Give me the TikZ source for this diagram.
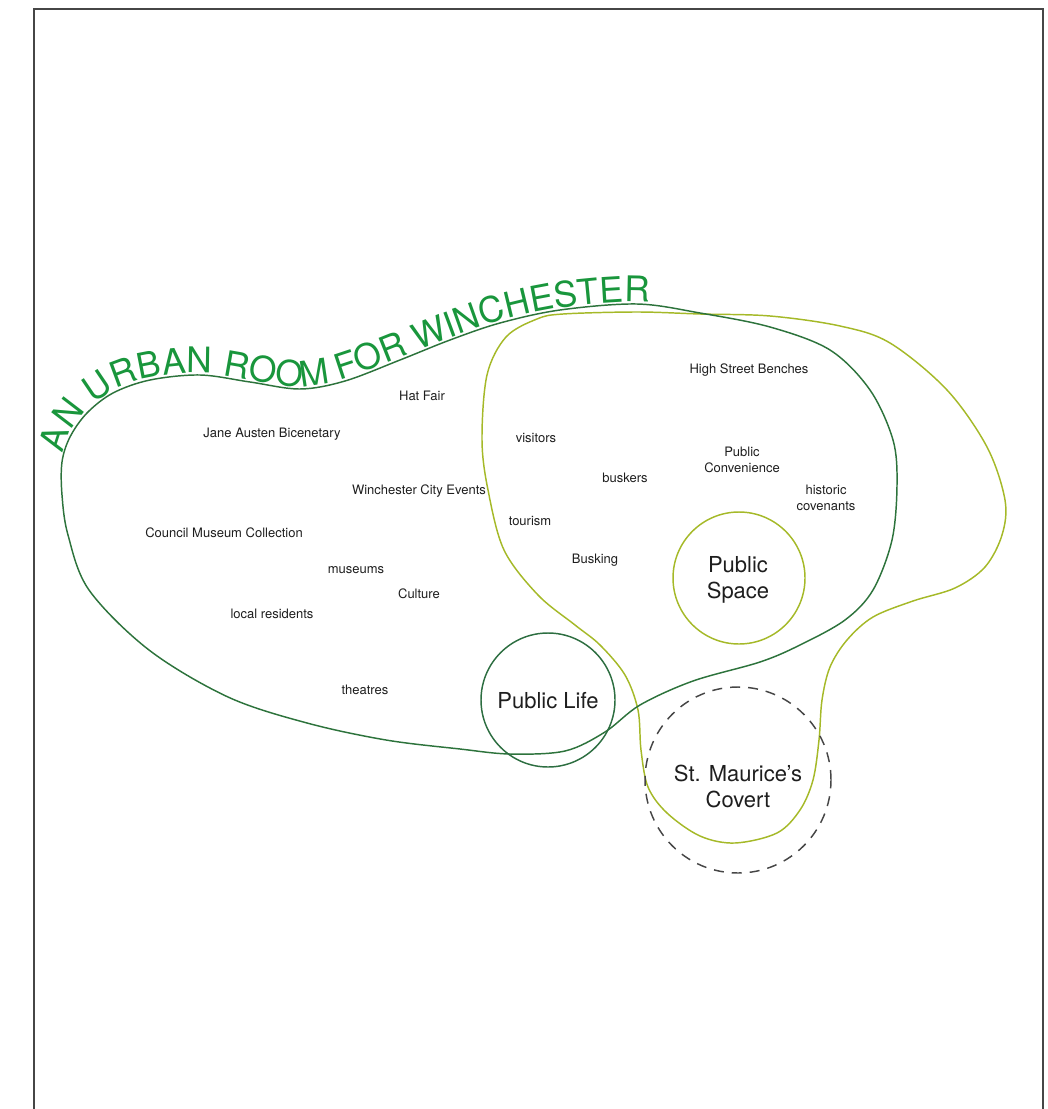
\documentclass[tikz,border=0pt]{standalone}
\usepackage{fontspec}
\setmainfont{TeX Gyre Heros}
\usetikzlibrary{decorations.text}
\definecolor{titlegreen}{RGB}{25,150,60}
\definecolor{blobA}{RGB}{45,115,60}
\definecolor{blobB}{RGB}{165,185,40}
\definecolor{plgreen}{RGB}{45,110,65}
\definecolor{framegray}{RGB}{70,70,70}
\definecolor{txt}{RGB}{30,30,30}
\newcommand\urtitlefont{\fontsize{26.5}{30}\selectfont}
\begin{document}
\begin{tikzpicture}[x=0.75pt,y=-0.75pt,
  lbl/.style={font=\fontsize{9.75}{12}\selectfont, text=txt, inner sep=0pt, align=center},
  big/.style={font=\fontsize{16.5}{19.5}\selectfont, text=txt, inner sep=0pt, align=center},
  blobline/.style={line width=1.1pt},
  ring/.style={circle, line width=1.1pt, inner sep=0pt}]
\useasboundingbox (0,0) rectangle (1048,1109);
% frame
\draw[framegray, line width=1.1pt] (34,1120) -- (34,9) -- (1043,9) -- (1043,1120);

% blob B (yellow-green)
\draw[blobline, blobB] plot[smooth cycle, tension=0.55] coordinates {
 (563,314) (637,312) (700,314) (770,316) (840,326) (890,343) (947,390) (987,447)
 (1005,500) (1002,535) (985,567) (955,588) (913,601) (873,617) (847,640) (830,667)
 (822,700) (819,740) (813,780) (800,810) (777,833) (735,843) (700,836) (667,813)
 (648,787) (641,750) (638,710) (625,675) (600,645) (575,625) (538,595) (504,550)
 (488,490) (482,440) (487,375) (506,337) (537,319)};

% blob A (dark green)
\draw[blobline, blobA]
 plot[smooth cycle, tension=0.55] coordinates {
 (62,462) (70,437) (87,413) (113,393) (150,380) (200,375) (250,382) (300,389)
 (345,381) (400,360) (450,340) (500,323) (560,310) (637,304) (700,313) (770,327)
 (830,350) (870,390) (893,440) (897,485) (892,540) (873,590) (845,620) (800,645)
 (760,662) (693,681) (640,705) (605,732) (565,751) (510,754) (460,749)
 (386,740) (307,723) (228,697) (149,650) (89,590) (68,535) (62,495)};

% title along the top of blob A
\path[decorate, decoration={text along path,
   text={|\urtitlefont|AN URBAN ROOM FOR WINCHESTER}, text color=titlegreen,
   raise=1.5pt, text align={left indent=9pt}}]
 plot[smooth, tension=0.55] coordinates {
 (62,466) (70,437) (87,413) (113,393) (150,380) (200,375) (250,382) (300,389)
 (345,381) (400,360) (450,340) (500,323) (560,310) (637,304) (700,313) (770,327)};

% circles
\node[ring, draw=blobB, minimum size=99pt] (space) at (739,578) {};
\node[ring, draw=plgreen, minimum size=100.5pt] (life) at (548,700) {};
\node[ring, draw=framegray, dash pattern=on 7.5pt off 6pt, minimum size=139.5pt] (covert) at (738,780) {};

\node[big] (spacelbl) at (738,580) {Public\\Space};
\node[big] (lifelbl) at (548,701) {Public Life};
\node[big] (covertlbl) at (738,786) {St. Maurice's\\Covert};

% labels
\node[lbl] (hatfair) at (422,396) {Hat Fair};
\node[lbl] (jane) at (272,434) {Jane Austen Bicenetary};
\node[lbl] (visitors) at (536,438) {visitors};
\node[lbl] (benches) at (749,370) {High Street Benches};
\node[lbl] (conv) at (742,460) {Public\\Convenience};
\node[lbl] (buskers) at (625,478) {buskers};
\node[lbl] (events) at (419,491) {Winchester City Events};
\node[lbl] (historic) at (826,498) {historic\\covenants};
\node[lbl] (tourism) at (530,521) {tourism};
\node[lbl] (council) at (224,533) {Council Museum Collection};
\node[lbl] (busking) at (595,560) {Busking};
\node[lbl] (museums) at (356,570) {museums};
\node[lbl] (culture) at (419,594) {Culture};
\node[lbl] (locals) at (272,614) {local residents};
\node[lbl] (theatres) at (365,690) {theatres};
\end{tikzpicture}
\end{document}
